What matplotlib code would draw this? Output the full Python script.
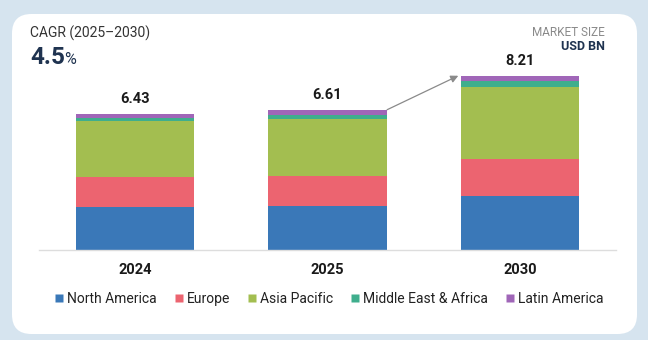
import numpy as np
import matplotlib.pyplot as plt
from matplotlib.patches import FancyBboxPatch
from matplotlib.lines import Line2D

plt.rcParams['font.family'] = ['Roboto', 'DejaVu Sans']

years = ["2024", "2025", "2030"]
totals = [6.43, 6.61, 8.21]
regions = ["North America", "Europe", "Asia Pacific", "Middle East & Africa", "Latin America"]
north_america = [2.04, 2.08, 2.55]
europe = [1.39, 1.43, 1.73]
asia_pacific = [2.63, 2.68, 3.38]
mea = [0.17, 0.17, 0.31]
latin_america = [0.20, 0.25, 0.24]
colors = ["#3a78b8", "#ec6470", "#a3be50", "#3fae8d", "#a066b8"]

series = [north_america, europe, asia_pacific, mea, latin_america]

fig = plt.figure(figsize=(6.48, 3.4), dpi=100)
fig.patch.set_facecolor("#d6e4ef")

# white card behind everything
W, H = 648, 340
card = FancyBboxPatch((12 / W, 6 / H), 625 / W, 320 / H,
                      boxstyle="round,pad=0,rounding_size=0.03",
                      transform=fig.transFigure, facecolor="white",
                      edgecolor="none", zorder=-5, mutation_aspect=W / H)
fig.patches.append(card)

ax = fig.add_axes([39 / W, 1 - 250 / H, 577 / W, 191 / H])
ax.set_facecolor("none")
ax.set_zorder(2)
x = np.arange(len(years))
bottom = np.zeros(len(years))
for vals, c in zip(series, colors):
    ax.bar(x, vals, bottom=bottom, width=0.615, color=c, zorder=2)
    bottom += np.array(vals)

for xi, t in zip(x, totals):
    ax.text(xi, t + 0.35, f"{t:.2f}", ha="center", va="bottom",
            fontsize=10.5, fontweight="bold", color="#1a1a1a")

ax.annotate("", xy=(x[2] - 0.32, totals[2]), xytext=(x[1] + 0.31, totals[1]),
            arrowprops=dict(arrowstyle="-|>", color="#8a8a8a", lw=0.9,
                            mutation_scale=11, shrinkA=0, shrinkB=0))

ax.set_xlim(-0.5, 2.5)
ax.set_ylim(0, 9)
ax.set_xticks(x)
ax.set_xticklabels(years, fontsize=10.5, fontweight="bold", color="#1a1a1a")
ax.tick_params(axis="x", length=0, pad=9)
ax.set_yticks([])
for s in ["top", "right", "left"]:
    ax.spines[s].set_visible(False)
ax.spines["bottom"].set_color("#dddddd")
ax.spines["bottom"].set_linewidth(1.0)

# header texts
fig.text(30 / W, 1 - 33 / H, "CAGR (2025\u20132030)", fontsize=10,
         color="#333333", va="center")
t = fig.text(30 / W, 1 - 58 / H, "4.5", fontsize=17.5, fontweight="bold",
             color="#1f3350", va="center")
fig.canvas.draw()
bb = t.get_window_extent()
fig.text(bb.x1 / W - 0.001, 1 - 60 / H, "%", fontsize=11.5, color="#1f3350",
         va="center")
fig.text(605 / W, 1 - 33 / H, "MARKET SIZE", fontsize=8.5, color="#8a8a8a",
         ha="right", va="center")
fig.text(605 / W, 1 - 47 / H, "USD BN", fontsize=9, fontweight="bold",
         color="#1f3350", ha="right", va="center")

handles = [Line2D([0], [0], marker="s", linestyle="none", markersize=5.5,
                  markerfacecolor=c, markeredgecolor="none") for c in colors]
fig.legend(handles, regions, loc="center", bbox_to_anchor=(0.508, 1 - 299 / H),
           ncol=5, frameon=False, fontsize=10, handlelength=0.6,
           handletextpad=0.3, columnspacing=1.25, labelcolor="#222222")

fig.savefig("out.png", dpi=100, facecolor=fig.get_facecolor())
